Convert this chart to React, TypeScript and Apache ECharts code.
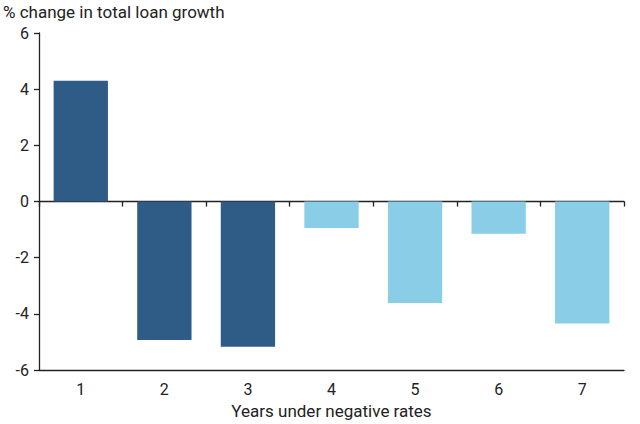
import React, { useEffect, useRef } from "react";
import * as echarts from "echarts";

const categories = ["1", "2", "3", "4", "5", "6", "7"];
const values = [4.3, -4.93, -5.17, -0.94, -3.61, -1.15, -4.34];
const barColors = ["#2E5C87", "#2E5C87", "#2E5C87", "#89CDE6", "#89CDE6", "#89CDE6", "#89CDE6"];
const yTicks = { min: -6, max: 6, interval: 2 };
const titleText = "% change in total loan growth";
const xName = "Years under negative rates";

export default function App() {
  const ref = useRef<HTMLDivElement>(null);
  useEffect(() => {
    if (!ref.current) return;
    const chart = echarts.init(ref.current, undefined, { renderer: "svg" });
    const font = "Roboto, 'Noto Sans', sans-serif";
    chart.setOption({
      animation: false,
      backgroundColor: "#ffffff",
      title: {
        text: titleText,
        left: 3,
        top: 3,
        padding: 0,
        textStyle: { fontFamily: font, fontSize: 17, fontWeight: "normal", color: "#222" },
      },
      grid: { left: 39, right: 16, top: 33, bottom: 51, containLabel: false },
      xAxis: [
        {
          type: "category",
          data: categories,
          position: "bottom",
          axisLine: { onZero: false, lineStyle: { color: "#222", width: 1.3 } },
          axisTick: { show: false },
          axisLabel: { fontFamily: font, fontSize: 16, color: "#222", margin: 11 },
          name: xName,
          nameLocation: "middle",
          nameGap: 31,
          nameTextStyle: { fontFamily: font, fontSize: 17, color: "#222" },
        },
        {
          type: "category",
          data: categories,
          position: "bottom",
          axisLine: { onZero: true, lineStyle: { color: "#222", width: 1.3 } },
          axisTick: { show: true, length: 5, lineStyle: { color: "#222", width: 1.3 } },
          axisLabel: { show: false },
        },
      ],
      yAxis: {
        type: "value",
        min: yTicks.min,
        max: yTicks.max,
        interval: yTicks.interval,
        axisLine: { show: true, lineStyle: { color: "#222", width: 1.3 } },
        axisTick: { show: true, length: 5, lineStyle: { color: "#222", width: 1.3 } },
        axisLabel: { fontFamily: font, fontSize: 16, color: "#222", margin: 10 },
        splitLine: { show: false },
      },
      series: [
        {
          type: "bar",
          xAxisIndex: 0,
          data: values.map((v, i) => ({ value: v, itemStyle: { color: barColors[i] } })),
          barCategoryGap: "35%",
        },
      ],
    });
    return () => chart.dispose();
  }, []);
  return (
    <div
      ref={ref}
      style={{ position: "fixed", left: 0, top: 0, width: 640, height: 424 }}
    />
  );
}
